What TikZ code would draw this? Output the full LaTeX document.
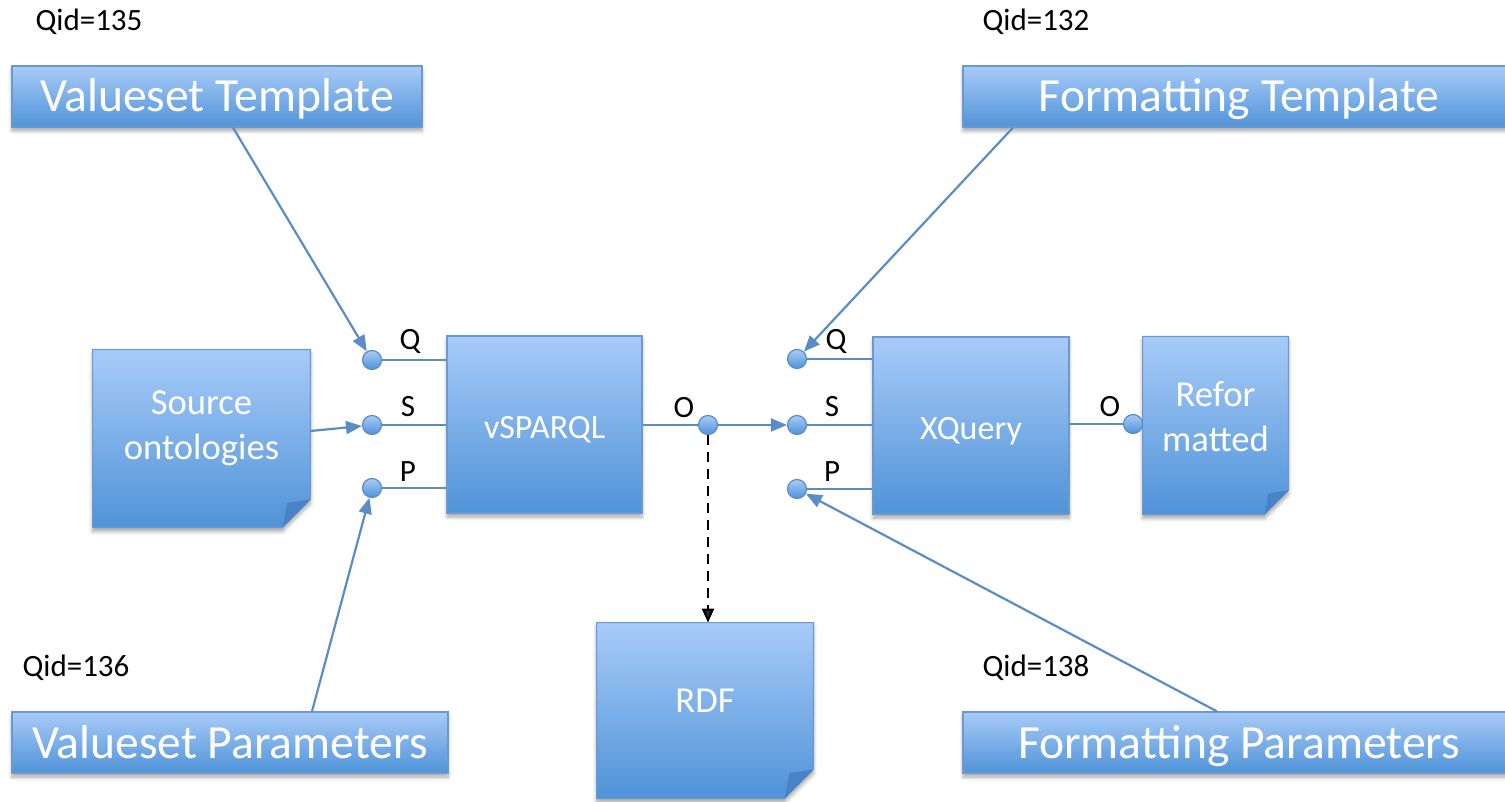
\documentclass[tikz,border=0pt]{standalone}
\usepackage{fontspec}
\setmainfont{Carlito}
\usetikzlibrary{arrows.meta,shadows.blur,backgrounds,calc}
\definecolor{btop}{HTML}{A8CBF8}
\definecolor{bbot}{HTML}{5093D8}
\definecolor{bedge}{HTML}{6A98CF}
\definecolor{lineblue}{HTML}{5A8DC8}
\definecolor{folddark}{HTML}{4A82C6}
\tikzset{
 shad/.style={blur shadow={shadow xshift=0pt,shadow yshift=-2pt,shadow blur steps=6,shadow opacity=35}},
 bluebox/.style={rectangle, top color=btop, bottom color=bbot, draw=bedge, line width=0.6pt, text=white, inner sep=0pt, shad},
 titlebox/.style={bluebox, minimum height=30.5pt, text height=19.5pt, text depth=4pt, font=\fontsize{23.8}{27}\selectfont},
 procbox/.style={bluebox, minimum height=88.5pt, text height=15pt, text depth=1pt, font=\fontsize{17}{20}\selectfont},
 docnode/.style={rectangle, inner sep=0pt},
 doctext/.style={text=white, align=center, inner sep=0pt, font=\fontsize{18.3}{22.5}\selectfont},
 docshape/.style={top color=btop, bottom color=bbot, draw=bedge, line width=0.6pt, shad},
 port/.style={circle, minimum size=9.5pt, inner sep=0pt, top color=btop, bottom color=bbot, draw=lineblue, line width=0.6pt},
 plabel/.style={font=\fontsize{15.5}{18}\selectfont, inner sep=0pt},
 qid/.style={font=\fontsize{15.5}{18}\selectfont, inner sep=0pt},
 wire/.style={draw=lineblue, line width=1.1pt},
 arr/.style={wire, -{Triangle[length=8pt,width=6.5pt]}},
}
\begin{document}
\begin{tikzpicture}[x=0.5pt,y=-0.5pt]
\useasboundingbox (0,0) rectangle (1505,802);
% title boxes
\node[titlebox, minimum width=205pt] (vt) at (217,96.5) {Valueset Template};
\node[titlebox, minimum width=276pt] (ft) at (1239,96.5) {Formatting Template};
\node[titlebox, minimum width=218pt] (vp) at (230,742.5) {Valueset Parameters};
\node[titlebox, minimum width=276pt] (fp) at (1239,742.5) {Formatting Parameters};
% Qid labels
\node[qid] (q135) at (89,22) {Qid=135};
\node[qid] (q132) at (1036,22) {Qid=132};
\node[qid] (q136) at (76,668) {Qid=136};
\node[qid] (q138) at (1036,668) {Qid=138};
% process boxes
\node[procbox, minimum width=97.5pt] (vsparql) at (544.5,424.5) {vSPARQL};
\node[procbox, minimum width=98pt] (xquery) at (971,425.5) {XQuery};
% documents
\node[docnode, minimum width=108.5pt, minimum height=88.5pt,
  label={[doctext, yshift=5pt]center:{Source\\ontologies}}] (src) at (201.5,438.5) {};
\node[docnode, minimum width=72.5pt, minimum height=88.5pt,
  label={[doctext, yshift=4.5pt]center:{Refor\\matted}}] (ref) at (1215.5,425.5) {};
\node[docnode, minimum width=108pt, minimum height=87.5pt,
  label={[doctext, yshift=5pt]center:{RDF}}] (rdf) at (705,710.5) {};
\begin{pgfonlayer}{background}
\path[docshape] (src.north west) -- (src.north east) -- ([yshift=14pt]src.south east) -- ([xshift=-14pt]src.south east) -- (src.south west) -- cycle;
\fill[folddark] ([yshift=14pt]src.south east) -- ([xshift=-11.6pt,yshift=12.2pt]src.south east) -- ([xshift=-14pt]src.south east) -- cycle;
\path[docshape] (ref.north west) -- (ref.north east) -- ([yshift=12pt]ref.south east) -- ([xshift=-12pt]ref.south east) -- (ref.south west) -- cycle;
\fill[folddark] ([yshift=12pt]ref.south east) -- ([xshift=-10pt,yshift=10.4pt]ref.south east) -- ([xshift=-12pt]ref.south east) -- cycle;
\path[docshape] (rdf.north west) -- (rdf.north east) -- ([yshift=14.5pt]rdf.south east) -- ([xshift=-14.5pt]rdf.south east) -- (rdf.south west) -- cycle;
\fill[folddark] ([yshift=14.5pt]rdf.south east) -- ([xshift=-12pt,yshift=12.6pt]rdf.south east) -- ([xshift=-14.5pt]rdf.south east) -- cycle;
\end{pgfonlayer}
% ports
\node[port] (vqp) at (372,360) {};
\node[port] (vsp) at (372,425) {};
\node[port] (vpp) at (372,488) {};
\node[port] (vop) at (708,425) {};
\node[port] (xqp) at (797,359) {};
\node[port] (xsp) at (797,425) {};
\node[port] (xpp) at (797,489) {};
\node[port] (xop) at (1133,424) {};
% port labels
\node[plabel] (lvq) at (410,341) {Q};
\node[plabel] (lvs) at (408,407) {S};
\node[plabel] (lvp) at (408,472) {P};
\node[plabel] (lvo) at (684,408) {O};
\node[plabel] (lxq) at (836,341) {Q};
\node[plabel] (lxs) at (832,407) {S};
\node[plabel] (lxp) at (832,472) {P};
\node[plabel] (lxo) at (1110,407) {O};
% port wires
\draw[wire] (vqp) -- (vqp -| vsparql.west);
\draw[wire] (vsp) -- (vsp -| vsparql.west);
\draw[wire] (vpp) -- (vpp -| vsparql.west);
\draw[wire] (vsparql.east |- vop) -- (vop);
\draw[wire] (xqp) -- (xqp -| xquery.west);
\draw[wire] (xsp) -- (xsp -| xquery.west);
\draw[wire] (xpp) -- (xpp -| xquery.west);
\draw[wire] (xquery.east |- xop) -- (xop);
% arrows
\draw[arr] ([xshift=-3pt]vt.south) ++(11pt,0) -- (vqp);
\draw[arr] ([xshift=-113pt]ft.south) -- (xqp);
\draw[arr] ([xshift=41pt]vp.north) -- (vpp);
\draw[arr] ([xshift=-11pt]fp.north) -- (xpp);
\draw[arr] ([yshift=3.75pt]src.east) -- (vsp);
\draw[arr] (vop) -- (xsp);
\draw[dash pattern=on 5pt off 3.5pt, line width=1.1pt, -{Triangle[length=7pt,width=6pt]}] (vop) -- (vop |- rdf.north);
\end{tikzpicture}
\end{document}
